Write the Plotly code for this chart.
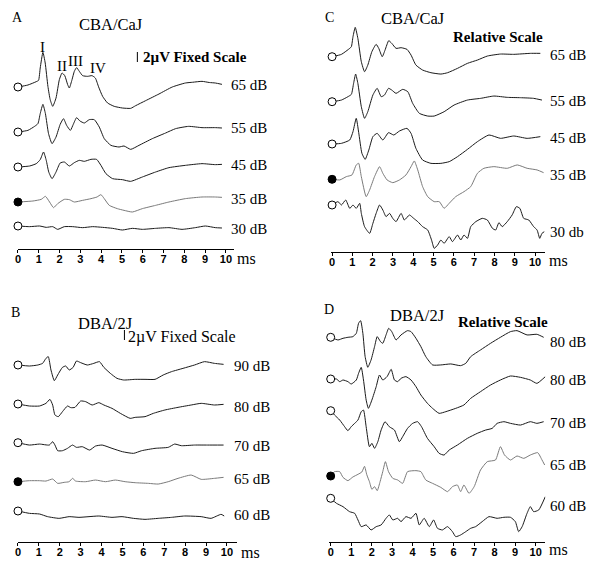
import plotly.graph_objects as go

W, H = 600, 562

# ------------------------------------------------------------------
# DATA: ABR waveforms, (time in ms, amplitude in µV relative to the
# trace baseline).
# ------------------------------------------------------------------
# Panel A  CBA/CaJ, fixed scale
A65 = [(0,0),(0.48,0.4),(0.88,1.07),(0.99,1.33),(1.07,3.8),(1.2,6.93),(1.31,4.8),(1.44,0.13),(1.55,-2.53),
       (1.67,-3.87),(1.83,-2.2),(1.99,1.47),(2.12,2.8),(2.25,2.27),(2.39,0.47),(2.47,-0.2),(2.6,1.47),(2.71,3.13),
       (2.82,3.87),(2.95,3.13),(3.11,2.27),(3.35,2.13),(3.56,2.27),(3.72,1.8),(3.88,0),(4.07,-1.87),(4.31,-3.2),
       (4.63,-3.87),(5.02,-4.2),(5.42,-4.27),(5.66,-3.73),(6.14,-2.73),(6.78,-1.4),(7.42,0),(8.05,0.8),(8.4,0.95),
       (8.85,1.13),(9.2,0.9),(9.49,0.8),(9.81,0.53)]
A55 = [(0,0),(0.48,0.33),(0.8,1.13),(0.96,1.67),(1.07,3.67),(1.2,5.53),(1.32,3.67),(1.47,-0.33),(1.64,-2.33),
       (1.83,-1.0),(2.03,1.53),(2.19,2.67),(2.34,1.33),(2.52,0.33),(2.66,1.53),(2.82,2.87),(2.98,2.2),(3.19,1.8),
       (3.43,2.47),(3.67,2.47),(3.91,1.0),(4.15,-1.33),(4.47,-2.67),(4.86,-3.0),(5.1,-2.8),(5.42,-3.47),
       (5.82,-2.67),(6.46,-1.33),(7.1,-0.2),(7.58,0.67),(8.21,1.13),(8.85,0.87),(9.49,0.87),(9.81,0.8)]
A45 = [(0,0),(0.56,0.2),(0.88,0.67),(1.07,1.47),(1.23,3.0),(1.36,1.33),(1.48,-1.0),(1.64,-2.33),(1.83,-1.0),
       (2.03,0.8),(2.23,1.0),(2.47,0.2),(2.71,0.87),(2.95,1.33),(3.19,1.13),(3.51,1.53),(3.78,1.53),(3.99,0.33),
       (4.23,-1.33),(4.55,-2.33),(5.02,-2.53),(5.42,-2.87),(5.98,-2.0),(6.62,-1.0),(7.26,-0.13),(8.05,0.33),
       (8.85,0.67),(9.49,0.47),(9.81,0.53)]
A35 = [(0,0),(0.72,0.2),(1.12,0.53),(1.32,1.13),(1.52,0),(1.71,-1.13),(1.91,-0.33),(2.23,0.53),(2.47,0.47),
       (2.71,0),(3.11,0.33),(3.51,0.67),(3.8,1.0),(3.99,1.47),(4.15,0.67),(4.39,-0.67),(4.78,-1.33),(5.1,-1.67),
       (5.5,-2.0),(5.98,-1.33),(6.62,-0.67),(7.26,0),(8.05,0.67),(8.85,1.0),(9.49,1.0),(9.81,0.93)]
A30 = [(0,0),(0.56,-0.13),(1.04,0),(1.36,-0.27),(1.67,-0.13),(1.91,-0.67),(2.23,-0.13),(2.63,-0.13),
       (3.11,-0.33),(3.59,-0.13),(4.07,-0.27),(4.55,-0.47),(5.02,-0.8),(5.5,-0.47),(5.98,-0.67),(6.62,-0.47),
       (7.26,-0.33),(7.89,-0.67),(8.53,-0.33),(9.01,0),(9.49,-0.33),(9.81,-0.4)]

# Panel B  DBA/2J, fixed scale
B90 = [(0,0),(0.55,-0.2),(0.95,0),(1.18,0.33),(1.34,1.33),(1.45,1.67),(1.58,-1.0),(1.74,-3.13),(1.9,-2.0),
       (2.13,-0.47),(2.29,-0.2),(2.45,-1.0),(2.64,-0.47),(2.8,0.8),(3.0,0.47),(3.32,0),(3.63,0.33),(3.9,0.67),
       (4.11,-0.47),(4.42,-1.67),(4.74,-2.67),(5.06,-3.0),(5.61,-2.87),(6.08,-2.87),(6.56,-2.87),(6.95,-2.0),
       (7.35,-1.33),(7.9,-0.67),(8.45,0),(8.93,0.67),(9.4,0.33),(9.84,0.13)]
B80 = [(0,0),(0.55,-0.4),(1.03,-0.4),(1.34,0.13),(1.53,0.93),(1.66,-0.2),(1.77,-2.2),(1.93,-2.53),(2.13,-1.53),
       (2.37,-0.4),(2.53,-0.73),(2.73,-0.67),(3.0,0.6),(3.24,0.47),(3.55,-0.2),(3.87,0.27),(4.11,-0.2),
       (4.5,-0.87),(4.9,-1.87),(5.37,-2.87),(5.61,-2.67),(6.08,-2.53),(6.48,-1.87),(7.03,-1.2),(7.66,-0.67),
       (8.29,-0.2),(8.77,0.13),(9.4,-0.2),(9.84,-0.07)]
B70 = [(0,0),(0.55,-0.47),(1.03,-0.27),(1.5,-0.47),(1.66,0.2),(1.77,-0.47),(1.9,-1.6),(2.13,-1.6),(2.37,-1.13),
       (2.61,-0.47),(2.8,-0.93),(3.08,-0.8),(3.43,-1.47),(3.71,-0.67),(4.03,-0.47),(4.5,-1.13),(5.0,-1.8),
       (5.53,-2.13),(5.92,-1.6),(6.56,-1.13),(7.19,-0.93),(7.5,-0.27),(7.82,-0.6),(8.45,-0.47),(9.08,-0.47),
       (9.84,-0.47)]
B65 = [(0,0),(0.55,0.2),(1.03,0.2),(1.34,0.13),(1.66,0.53),(1.9,-0.33),(2.21,-0.13),(2.45,0),(2.61,0.67),
       (2.76,0.13),(3.24,0),(3.71,0.33),(4.19,0),(4.66,0.33),(5.13,0),(5.61,-0.2),(6.24,-0.33),(6.71,-0.47),
       (7.19,0),(7.66,0.67),(8.29,1.33),(8.77,0.47),(9.4,0.67),(9.84,0.87)]
B60 = [(0,0),(0.55,-0.47),(1.03,-0.6),(1.42,-1.13),(1.97,-1.47),(2.45,-1.13),(2.92,-1.27),(3.4,-1.13),
       (3.87,-1.0),(4.5,-1.27),(4.98,-1.13),(5.53,-1.47),(6.08,-1.67),(6.71,-1.47),(7.35,-1.27),(7.98,-1.0),
       (8.77,-1.13),(9.24,-1.47),(9.72,-0.67),(9.87,-1.0)]

# Panel C  CBA/CaJ, relative scale
C65 = [(0,0),(0.46,0.47),(0.87,1.67),(0.95,2.0),(1.03,4.0),(1.14,5.87),(1.27,3.67),(1.44,-1.0),(1.6,-3.0),
       (1.76,-1.67),(1.96,1.0),(2.17,2.47),(2.3,1.67),(2.47,0),(2.61,1.33),(2.79,3.2),(2.94,2.67),(3.15,1.67),
       (3.4,1.8),(3.69,1.47),(3.89,0.33),(4.13,-1.67),(4.46,-2.67),(4.87,-3.2),(5.36,-3.47),(5.69,-3.2),
       (6.18,-2.33),(6.67,-1.33),(7.16,-0.67),(7.65,0.13),(8.3,0.53),(8.95,0.47),(9.77,0.67),(10.26,0.67)]
C55 = [(0,0),(0.46,0.33),(0.78,1.0),(0.95,1.47),(1.06,3.67),(1.16,5.53),(1.27,3.67),(1.44,-1.0),(1.6,-3.33),
       (1.76,-2.0),(2.01,1.33),(2.22,2.67),(2.42,1.0),(2.58,1.33),(2.78,2.67),(2.94,2.33),(3.15,1.67),
       (3.48,2.47),(3.73,2.0),(3.97,-0.33),(4.3,-2.33),(4.71,-2.87),(5.03,-2.87),(5.52,-2.0),(6.01,-0.67),
       (6.67,0.33),(7.32,0.67),(7.97,1.13),(8.63,0.87),(9.28,0.8),(9.93,0.67),(10.34,0.33)]
C45 = [(0,0),(0.46,0.13),(0.87,0.8),(1.03,2.47),(1.19,5.13),(1.31,2.33),(1.47,-1.87),(1.63,-3.07),(1.81,-1.2),
       (2.01,1.47),(2.22,2.13),(2.5,0.8),(2.78,2.27),(3.04,1.8),(3.32,2.6),(3.69,3.13),(3.89,2.13),(4.13,-0.87),
       (4.46,-3.2),(4.87,-3.87),(5.36,-3.87),(5.77,-3.53),(6.18,-2.53),(6.67,-1.07),(7.16,0.47),(7.73,1.8),
       (8.3,1.13),(8.95,1.6),(9.61,1.13),(10.26,1.47)]
C35 = [(0,0),(0.38,-0.13),(0.7,0.53),(0.98,0.87),(1.19,2.87),(1.31,3.2),(1.44,0.53),(1.68,-3.47),(1.85,-2.13),
       (2.09,0.53),(2.34,2.53),(2.5,1.2),(2.71,-0.13),(2.99,-0.67),(3.32,-0.13),(3.64,0.87),(3.89,2.53),
       (4.05,3.67),(4.22,1.87),(4.46,-1.47),(4.71,-3.47),(5.03,-4.47),(5.28,-4.47),(5.52,-5.8),(5.77,-4.8),
       (6.09,-3.47),(6.5,-2.47),(6.83,-1.47),(7.16,1.2),(7.48,2.2),(7.97,2.53),(8.63,2.2),(9.12,2.87),
       (9.61,2.2),(10.1,1.87),(10.42,1.33)]
C30 = [(0,0),(0.29,0.67),(0.46,0),(0.67,1.0),(0.87,-0.67),(1.03,0),(1.19,-0.67),(1.36,0.33),(1.44,-1.67),
       (1.6,-4.33),(1.85,-5.67),(2.01,-3.67),(2.17,-1.67),(2.34,0),(2.5,-1.0),(2.66,-2.33),(2.83,-1.67),
       (2.99,-2.67),(3.15,-3.33),(3.4,-1.67),(3.56,-3.0),(3.81,-2.0),(4.02,-2.67),(4.22,-3.33),(4.46,-4.33),
       (4.71,-5.0),(4.9,-7.0),(5.03,-8.67),(5.2,-8.0),(5.36,-7.0),(5.52,-7.67),(5.77,-6.33),(5.93,-7.33),
       (6.18,-6.0),(6.34,-7.0),(6.5,-6.0),(6.67,-6.67),(6.83,-4.33),(7.08,-3.33),(7.4,-2.67),(7.65,-3.0),
       (7.9,-4.67),(8.06,-5.0),(8.22,-3.53),(8.38,-4.33),(8.63,-3.33),(8.87,-2.0),(9.08,-0.33),(9.25,-0.67),
       (9.44,-2.67),(9.69,-3.0),(9.93,-4.33),(10.1,-5.0),(10.23,-6.67),(10.34,-5.67),(10.46,-5.33)]

# Panel D  DBA/2J, relative scale
D80a = [(0,0),(0.36,-0.53),(0.6,-0.2),(0.84,0),(1.08,0.13),(1.25,0.8),(1.36,2.8),(1.46,3.33),(1.57,0.8),
        (1.68,-3.87),(1.81,-6.0),(1.97,-4.53),(2.14,-1.87),(2.27,0.13),(2.43,-0.87),(2.54,-1.2),(2.7,0.47),
        (2.83,1.8),(2.98,1.13),(3.19,-0.53),(3.43,0.47),(3.75,1.33),(3.92,1.13),(4.16,-0.2),(4.4,-1.87),
        (4.64,-3.87),(4.97,-5.53),(5.37,-5.53),(5.86,-5.33),(6.34,-5.67),(6.59,-5.2),(6.83,-3.87),(7.31,-2.53),
        (7.8,-1.2),(8.28,0),(8.77,1.13),(9.09,1.33),(9.58,0.47),(10.06,0.6),(10.39,0)]
D80b = [(0,0),(0.28,0),(0.44,-0.53),(0.6,-0.2),(0.84,-0.53),(1.0,-1.0),(1.25,-0.2),(1.36,1.13),(1.49,2.33),
        (1.6,-0.2),(1.73,-4.2),(1.84,-5.87),(2.01,-4.2),(2.22,-1.53),(2.38,0.8),(2.54,-0.2),(2.75,0.47),
        (2.95,1.93),(3.11,-0.2),(3.27,-0.53),(3.43,0.13),(3.67,0.47),(3.92,-0.2),(4.16,-1.53),(4.4,-3.2),
        (4.72,-4.87),(4.97,-5.87),(5.29,-6.87),(5.62,-6.53),(6.1,-5.87),(6.5,-5.2),(6.83,-3.87),(7.31,-2.53),
        (7.8,-1.2),(8.28,-0.2),(8.77,0.6),(9.26,0.33),(9.74,-0.2),(10.06,-0.87),(10.47,0.47)]
D70 = [(0,0),(0.19,-0.87),(0.44,-1.87),(0.68,-3.2),(0.84,-4.0),(1.0,-3.2),(1.17,-2.53),(1.33,-1.87),
       (1.49,-0.2),(1.6,0.13),(1.73,-3.2),(1.89,-7.2),(2.01,-6.53),(2.14,-7.53),(2.3,-6.2),(2.46,-3.87),
       (2.65,-2.2),(2.86,-3.2),(3.11,-3.87),(3.35,-6.2),(3.51,-5.2),(3.75,-3.53),(4.0,-2.53),(4.24,-2.2),
       (4.43,-3.2),(4.72,-5.53),(5.05,-7.2),(5.29,-8.53),(5.53,-8.87),(5.78,-7.87),(6.18,-6.87),(6.67,-5.53),
       (7.15,-4.53),(7.56,-3.87),(7.88,-3.53),(8.12,-2.53),(8.45,-2.2),(8.77,-2.53),(9.26,-2.87),(9.74,-2.2),
       (10.06,-2.53),(10.39,-2.2)]
D65 = [(0,0),(0.19,0.87),(0.44,0.87),(0.6,-0.27),(0.84,-0.93),(1.08,-0.2),(1.33,0.33),(1.52,0.8),(1.65,1.93),
       (1.76,0.27),(1.89,-1.13),(2.01,-2.67),(2.14,-2.13),(2.27,-2.93),(2.41,-1.13),(2.54,0.87),(2.67,2.87),
       (2.82,0.87),(3.03,-0.47),(3.27,-0.8),(3.51,-1.47),(3.75,0.87),(4.16,1.07),(4.4,0.87),(4.64,-0.8),
       (4.97,-1.47),(5.37,-2.27),(5.7,-3.13),(5.94,-2.13),(6.18,-1.8),(6.34,-3.13),(6.5,-1.8),(6.75,-3.47),
       (7.0,-2.13),(7.31,1.2),(7.64,2.87),(8.04,3.2),(8.28,5.87),(8.48,4.2),(8.77,3.2),(9.09,4.0),(9.42,3.53),
       (9.74,4.2),(10.1,4.67),(10.31,3.2),(10.44,2.2)]
D60 = [(0,0),(0.28,-1.0),(0.6,-1.67),(0.92,-2.67),(1.17,-3.0),(1.33,-4.33),(1.49,-5.67),(1.73,-5.33),
       (1.97,-6.33),(2.22,-5.67),(2.46,-5.33),(2.7,-4.0),(2.86,-3.33),(3.03,-4.33),(3.27,-4.0),(3.43,-4.67),
       (3.67,-3.67),(3.92,-4.0),(4.16,-3.0),(4.32,-5.33),(4.56,-4.0),(4.81,-5.67),(5.02,-4.33),(5.21,-6.0),
       (5.45,-6.33),(5.7,-5.67),(5.94,-6.67),(6.1,-7.67),(6.34,-7.33),(6.59,-6.67),(6.83,-6.0),(7.07,-5.67),
       (7.39,-4.67),(7.72,-3.67),(8.12,-4.0),(8.45,-3.8),(8.77,-3.8),(9.01,-4.67),(9.17,-6.67),(9.34,-5.67),
       (9.58,-3.0),(9.74,-1.67),(9.9,-2.67),(10.15,-2.33),(10.47,0.33)]

A_labels = ["65 dB", "55 dB", "45 dB", "35 dB", "30 dB"]
B_labels = ["90 dB", "80 dB", "70 dB", "65 dB", "60 dB"]
C_labels = ["65 dB", "55 dB", "45 dB", "35 dB", "30 db"]
D_labels = ["80 dB", "80 dB", "70 dB", "65 dB", "60 dB"]
A_threshold = [False, False, False, True, False]
B_threshold = [False, False, False, True, False]
C_threshold = [False, False, False, True, False]
D_threshold = [False, False, False, True, False]
tick_values = list(range(0, 11))
scale_bar_uv = 2

# ------------------------------------------------------------------
# LAYOUT (pixel geometry of each panel, style)
# ------------------------------------------------------------------
SERIF = "Liberation Serif, Times New Roman, serif"
UV_PX = 5.0  # vertical pixels per µV
PAGE_OFF = 8  # the page body margin shifts the figure by this many px

panels = [
    dict(traces=[A65, A55, A45, A35, A30], labels=A_labels, thr=A_threshold,
         base_px=[87, 132, 167, 202, 226], lab_px=[85, 128, 165, 199, 229], lab_x=227,
         x0=15, ppm=20.9, xstart=15, xend=232, axis_y=249, top=20,
         letter=("A", 15, 17), title=("CBA/CaJ", 109, 25),
         ms=(233, 258), bar=(135, 52, 62, "2µV Fixed Scale", 139, 57, "bold", 15)),
    dict(traces=[C65, C55, C45, C35, C30], labels=C_labels, thr=C_threshold,
         base_px=[56.7, 101.7, 144, 179.3, 205], lab_px=[55, 101, 138, 175, 232], lab_x=548,
         x0=330.7, ppm=20.4, xstart=329.3, xend=544.3, axis_y=252, top=12,
         letter=("C", 328, 17), title=("CBA/CaJ", 412, 19),
         ms=(547, 260), rel=(497, 37)),
    dict(traces=[B90, B80, B70, B65, B60], labels=B_labels, thr=B_threshold,
         base_px=[365, 404, 442.7, 481.7, 511], lab_px=[366, 407, 446, 479, 515], lab_x=230,
         x0=15, ppm=21.0, xstart=15, xend=235, axis_y=541.7, top=300,
         letter=("B", 13, 312), title=("DBA/2J", 103, 323),
         ms=(237, 552), bar=(122, 330, 340, "2µV Fixed Scale", 124, 337, "normal", 16)),
    dict(traces=[D80a, D80b, D70, D65, D60], labels=D_labels, thr=D_threshold,
         base_px=[337.3, 379, 410.7, 476, 498.3], lab_px=[342, 380, 423, 465, 506], lab_x=548,
         x0=329.3, ppm=20.6, xstart=328, xend=545, axis_y=542, top=300,
         letter=("D", 328, 309), title=("DBA/2J", 417, 315),
         ms=(547, 549), rel=(502, 322)),
]

fig = go.Figure()
layout = dict(width=W, height=H, margin=dict(l=0, r=0, t=0, b=0),
              paper_bgcolor="white", plot_bgcolor="rgba(0,0,0,0)", showlegend=False)
annotations = []
shapes = []


def px2x(px):
    return (px - PAGE_OFF) / W


def px2y(py):
    return 1 - (py - PAGE_OFF) / H


def note(text, x, y, size, anchor="center", weight="normal"):
    annotations.append(dict(text=text, x=px2x(x), y=px2y(y), xref="paper", yref="paper",
                            xanchor=anchor, yanchor="middle", showarrow=False,
                            font=dict(family=SERIF, size=size, color="black", weight=weight)))


for i, p in enumerate(panels):
    n = "" if i == 0 else str(i + 1)
    xa, ya = "x" + n, "y" + n
    yr_top = (p["axis_y"] - p["top"]) / UV_PX
    layout["xaxis" + n] = dict(
        domain=[px2x(p["xstart"]), px2x(p["xend"])],
        range=[(p["xstart"] - p["x0"]) / p["ppm"], (p["xend"] - p["x0"]) / p["ppm"]],
        anchor=ya, showline=True, linecolor="black", linewidth=1, ticks="outside",
        ticklen=3, tickcolor="black", tickwidth=1, tickvals=tick_values, ticklabelstandoff=-3,
        tickfont=dict(family="Liberation Sans, Arial", size=11, color="black", weight="bold"),
        showgrid=False, zeroline=False, fixedrange=True)
    layout["yaxis" + n] = dict(
        domain=[px2y(p["axis_y"]), px2y(p["top"])], range=[0, yr_top], anchor=xa,
        visible=False, fixedrange=True)
    for tr, lab, thr, bpx, lpx in zip(p["traces"], p["labels"], p["thr"], p["base_px"], p["lab_px"]):
        off = (p["axis_y"] - bpx) / UV_PX
        ts = [pt[0] for pt in tr]
        vs = [pt[1] + off for pt in tr]
        col = "#7a7a7a" if thr else "#1a1a1a"
        fig.add_trace(go.Scatter(x=ts, y=vs, mode="lines", xaxis=xa, yaxis=ya,
                                 line=dict(color=col, width=1.0, shape="spline", smoothing=0.5),
                                 hoverinfo="skip"))
        fig.add_trace(go.Scatter(x=[ts[0]], y=[vs[0]], mode="markers", xaxis=xa, yaxis=ya,
                                 cliponaxis=False, hoverinfo="skip",
                                 marker=dict(size=8, symbol="circle",
                                             color="black" if thr else "white",
                                             line=dict(color="black", width=1))))
        note(lab, p["lab_x"], lpx, 15, anchor="left")
    L, lx, ly = p["letter"]
    note(L, lx, ly, 14)
    T, tx, ty = p["title"]
    note(T, tx, ty, 16.5)
    mx, my = p["ms"]
    note("ms", mx, my, 16, anchor="left")
    if "bar" in p:
        bx, by0, by1, btxt, btx, bty, bw, bs = p["bar"]
        xb = (bx - p["x0"]) / p["ppm"]
        yb0 = (p["axis_y"] - by1) / UV_PX
        shapes.append(dict(type="line", xref=xa, yref=ya, x0=xb, x1=xb, y0=yb0, y1=yb0 + scale_bar_uv,
                           line=dict(color="black", width=1)))
        note(btxt, btx, bty, bs, anchor="left", weight=bw)
    if "rel" in p:
        rx, ry = p["rel"]
        note("Relative Scale", rx, ry, 15, weight="bold")

for txt, wx, wy in [("I", 40, 47), ("II", 59, 66), ("III", 73, 61), ("IV", 95, 68)]:
    note(txt, wx, wy, 15)

layout["annotations"] = annotations
layout["shapes"] = shapes
fig.update_layout(**layout)
fig.write_html("out.html")
